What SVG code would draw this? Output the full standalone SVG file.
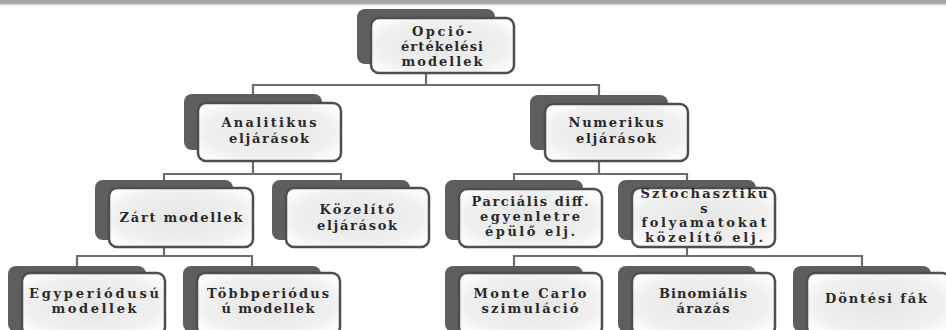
<svg xmlns="http://www.w3.org/2000/svg" width="946" height="330" viewBox="0 0 946 330">
<defs>
<radialGradient id="fg" cx="0.5" cy="0.5" r="0.6">
<stop offset="0" stop-color="#e6e6e6"/>
<stop offset="0.75" stop-color="#f0f0f0"/>
<stop offset="1" stop-color="#fcfcfc"/>
</radialGradient>
<style>
.bk{fill:#5e5e5e;}
.fr{fill:url(#fg);stroke:#4e4e4e;stroke-width:2.5;}
.t{font-family:"DejaVu Serif","Liberation Serif",serif;font-size:13px;font-weight:bold;fill:#2a2a2a;text-anchor:middle;}
.c{fill:none;stroke:#6c6c6c;stroke-width:2.2;}
</style>
</defs>
<rect x="0" y="0" width="946" height="330" fill="#ffffff"/>
<rect x="0" y="0" width="946" height="4" fill="#a8a8a8"/>
<rect x="0" y="4" width="946" height="1.5" fill="#dcdcdc"/>

<g id="connectors">
<path class="c" d="M426,73 V85 M253,94 V85 H599 V95"/>
<path class="c" d="M253,161 V174 M164,180 V174 H341 V180"/>
<path class="c" d="M599,160 V174 M514,180 V174 H687 V180"/>
<path class="c" d="M164,247 V256 M77,266 V256 H252 V266"/>
<path class="c" d="M687,247 V256 M514,266 V256 H862 V266"/>
</g>

<g id="n-opcio">
<rect class="bk" x="357" y="9" width="138" height="55" rx="8"/>
<rect class="fr" x="371" y="18" width="143" height="55" rx="8"/>
<text class="t" x="442" y="36" textLength="60" lengthAdjust="spacing">Opció-</text>
<text class="t" x="442" y="51" textLength="82" lengthAdjust="spacing">értékelési</text>
<text class="t" x="442" y="66" textLength="81" lengthAdjust="spacing">modellek</text>
</g>

<g id="n-analitikus">
<rect class="bk" x="184" y="94" width="138" height="56" rx="8"/>
<rect class="fr" x="198" y="103" width="143" height="58" rx="8"/>
<text class="t" x="269" y="127" textLength="95" lengthAdjust="spacing">Analitikus</text>
<text class="t" x="269" y="143" textLength="80" lengthAdjust="spacing">eljárások</text>
</g>

<g id="n-numerikus">
<rect class="bk" x="530" y="95" width="138" height="55" rx="8"/>
<rect class="fr" x="545" y="104" width="143" height="57" rx="8"/>
<text class="t" x="616" y="127" textLength="95" lengthAdjust="spacing">Numerikus</text>
<text class="t" x="616" y="143" textLength="80" lengthAdjust="spacing">eljárások</text>
</g>

<g id="n-zart">
<rect class="bk" x="95" y="180" width="138" height="60" rx="8"/>
<rect class="fr" x="109" y="188" width="144" height="59" rx="8"/>
<text class="t" x="181" y="222" textLength="123" lengthAdjust="spacing">Zárt modellek</text>
</g>

<g id="n-kozelito">
<rect class="bk" x="272" y="180" width="138" height="60" rx="8"/>
<rect class="fr" x="286" y="188" width="143" height="59" rx="8"/>
<text class="t" x="357" y="214" textLength="75" lengthAdjust="spacing">Közelítő</text>
<text class="t" x="357" y="230" textLength="80" lengthAdjust="spacing">eljárások</text>
</g>

<g id="n-parcialis">
<rect class="bk" x="445" y="180" width="138" height="60" rx="8"/>
<rect class="fr" x="459" y="189" width="143" height="58" rx="8"/>
<text class="t" x="530" y="206" textLength="117" lengthAdjust="spacing">Parciális diff.</text>
<text class="t" x="530" y="221" textLength="100" lengthAdjust="spacing">egyenletre</text>
<text class="t" x="530" y="236" textLength="90" lengthAdjust="spacing">épülő elj.</text>
</g>

<g id="n-sztochasztikus">
<rect class="bk" x="618" y="180" width="138" height="60" rx="8"/>
<rect class="fr" x="632" y="188" width="143" height="59" rx="8"/>
<text class="t" x="704" y="198" textLength="127" lengthAdjust="spacing">Sztochasztiku</text>
<text class="t" x="704" y="212.5">s</text>
<text class="t" x="704" y="227" textLength="125" lengthAdjust="spacing">folyamatokat</text>
<text class="t" x="704" y="241.5" textLength="118" lengthAdjust="spacing">közelítő elj.</text>
</g>

<g id="n-egyperiodusu">
<rect class="bk" x="8" y="266" width="138" height="66" rx="8"/>
<rect class="fr" x="22" y="273" width="143" height="62" rx="8"/>
<text class="t" x="94" y="298" textLength="130" lengthAdjust="spacing">Egyperiódusú</text>
<text class="t" x="94" y="313" textLength="85" lengthAdjust="spacing">modellek</text>
</g>

<g id="n-tobbperiodusu">
<rect class="bk" x="183" y="266" width="138" height="66" rx="8"/>
<rect class="fr" x="197" y="273" width="143" height="62" rx="8"/>
<text class="t" x="268" y="298" textLength="122" lengthAdjust="spacing">Többperiódus</text>
<text class="t" x="268" y="313" textLength="93" lengthAdjust="spacing">ú modellek</text>
</g>

<g id="n-montecarlo">
<rect class="bk" x="445" y="266" width="138" height="66" rx="8"/>
<rect class="fr" x="459" y="273" width="143" height="62" rx="8"/>
<text class="t" x="530" y="298" textLength="113" lengthAdjust="spacing">Monte Carlo</text>
<text class="t" x="530" y="313" textLength="97" lengthAdjust="spacing">szimuláció</text>
</g>

<g id="n-binomialis">
<rect class="bk" x="618" y="266" width="138" height="66" rx="8"/>
<rect class="fr" x="632" y="273" width="143" height="62" rx="8"/>
<text class="t" x="703" y="298" textLength="88" lengthAdjust="spacing">Binomiális</text>
<text class="t" x="703" y="313" textLength="53" lengthAdjust="spacing">árazás</text>
</g>

<g id="n-dontesi">
<rect class="bk" x="793" y="266" width="138" height="66" rx="8"/>
<rect class="fr" x="807" y="273" width="143" height="62" rx="8"/>
<text class="t" x="876" y="303" textLength="102" lengthAdjust="spacing">Döntési fák</text>
</g>
</svg>
